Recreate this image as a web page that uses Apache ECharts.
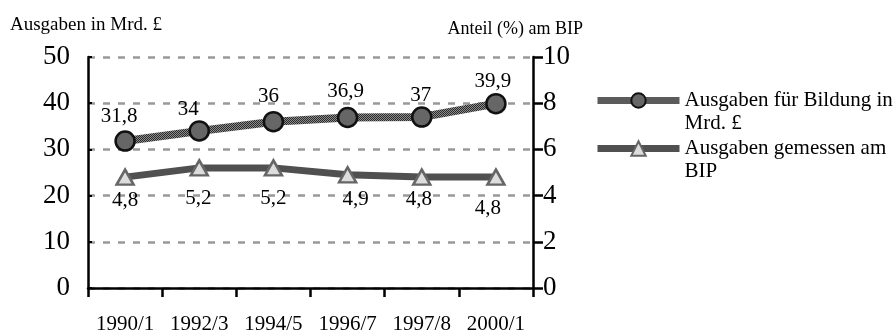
<!DOCTYPE html>
<html><head><meta charset="utf-8">
<script src="https://cdn.jsdelivr.net/npm/echarts@6/dist/echarts.min.js"></script>
<style>html,body{margin:0;padding:0;background:#fff}#c{width:896px;height:336px}</style>
</head><body><div id="c"></div>
<script>
const categories = ['1990/1','1992/3','1994/5','1996/7','1997/8','2000/1'];
const spending = [31.8, 34, 36, 36.9, 37, 39.9];
const gdpShare = [4.8, 5.2, 5.2, 4.9, 4.8, 4.8];
const leftTicks = [0, 50, 10];
const rightTicks = [0, 10, 2];
const seriesNames = ['Ausgaben für Bildung in Mrd. £', 'Ausgaben gemessen am BIP'];
// label nudges (layout only)
const spendingLabelOffsets = [[-6,-3],[-11,0],[-5,-4],[-2,-5],[-1,0],[-3,-1]];
const shareLabelOffsets = [[0,4],[-1,11],[0,11],[8,6],[-3,3],[-8,12]];

const F = '"Liberation Serif","Times New Roman",serif';
const pc = document.createElement('canvas');
pc.width = 4; pc.height = 4;
const g = pc.getContext('2d');
g.fillStyle = '#8c8c8c'; g.fillRect(0,0,4,4);
g.fillStyle = '#2a2a2a';
g.fillRect(0,0,1,1); g.fillRect(2,0,1,1); g.fillRect(1,1,1,1); g.fillRect(3,1,1,1);
g.fillRect(0,2,1,1); g.fillRect(2,2,1,1); g.fillRect(1,3,1,1); g.fillRect(3,3,1,1);
const pattern = {image: pc, repeat: 'repeat'};

const fmt = p => String(p.value).replace('.', ',');
const lblStyle = {fontFamily: F, fontSize: 21, color: '#000'};

const legendBase = {
  left: 594, orient: 'vertical', padding: 0,
  itemWidth: 82, itemHeight: 18, itemGap: 0, itemTextGap: 7,
  formatter: n => n === seriesNames[0] ? '\nAusgaben für Bildung in\nMrd. £' : '\nAusgaben gemessen am\nBIP',
  textStyle: {fontFamily: F, fontSize: 21, color: '#000', lineHeight: 23},
  lineStyle: {width: 7}
};

const chart = echarts.init(document.getElementById('c'), null, {renderer:'canvas'});
chart.setOption({
  animation: false,
  textStyle: {fontFamily: F, color: '#000'},
  grid: {left: 88, right: 363, top: 57, bottom: 48},
  legend: [
    Object.assign({}, legendBase, {top: 66, data: [seriesNames[0]]}),
    Object.assign({}, legendBase, {top: 114, data: [seriesNames[1]]})
  ],
  xAxis: {
    type: 'category', data: categories, boundaryGap: true, position: 'bottom',
    axisLine: {lineStyle: {color: '#000', width: 2.5}},
    axisTick: {show: true, length: 9, lineStyle: {color: '#000', width: 2.5}},
    axisLabel: {fontFamily: F, fontSize: 21, color: '#000', margin: 26, interval: 0, hideOverlap: false}
  },
  yAxis: [{
    type: 'value', min: leftTicks[0], max: leftTicks[1], interval: leftTicks[2], position: 'left',
    name: 'Ausgaben in Mrd. £', nameLocation: 'end', nameGap: 22,
    nameTextStyle: {fontFamily: F, fontSize: 19, color: '#000', align: 'left', padding: [0,0,0,-78]},
    axisLine: {show: true, lineStyle: {color: '#000', width: 2.5}},
    axisTick: {show: true, inside: true, length: 4, lineStyle: {color: '#000', width: 2}},
    axisLabel: {fontFamily: F, fontSize: 27, color: '#000', margin: 18},
    splitLine: {show: true, lineStyle: {color: '#999', width: 2.5, type: [7,8]}}
  }, {
    type: 'value', position: 'right', min: rightTicks[0], max: rightTicks[1], interval: rightTicks[2],
    name: 'Anteil (%) am BIP', nameLocation: 'end', nameGap: 19,
    nameTextStyle: {fontFamily: F, fontSize: 18, color: '#000', align: 'right', padding: [0,-50,0,0]},
    axisLine: {show: true, lineStyle: {color: '#000', width: 2.5}},
    axisTick: {show: true, length: 10, lineStyle: {color: '#000', width: 2.5}},
    axisLabel: {fontFamily: F, fontSize: 27, color: '#000', margin: 10},
    splitLine: {show: false}
  }],
  series: [{
    name: seriesNames[0], type: 'line', yAxisIndex: 0,
    data: spending.map((v, i) => ({value: v, label: {offset: spendingLabelOffsets[i]}})),
    symbol: 'circle', symbolSize: 19,
    lineStyle: {color: pattern, width: 8},
    itemStyle: {color: '#666', borderColor: '#111', borderWidth: 2.5},
    label: Object.assign({show: true, position: 'top', distance: 0, formatter: fmt}, lblStyle),
    z: 3
  }, {
    name: seriesNames[1], type: 'line', yAxisIndex: 1,
    data: gdpShare.map((v, i) => ({value: v, label: {offset: shareLabelOffsets[i]}})),
    symbol: 'triangle', symbolSize: [17, 15],
    lineStyle: {color: '#505050', width: 7},
    itemStyle: {color: '#ddd', borderColor: '#666', borderWidth: 2.5},
    label: Object.assign({show: true, position: 'bottom', distance: 0, formatter: fmt}, lblStyle),
    z: 2
  }]
});
</script></body></html>
